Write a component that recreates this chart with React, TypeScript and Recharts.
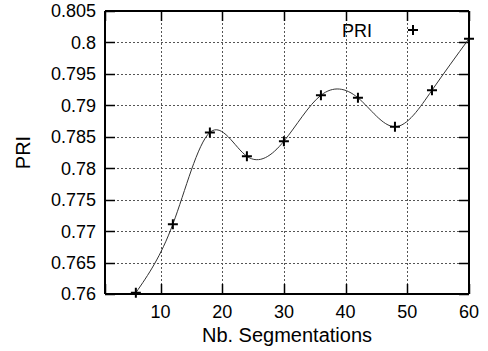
import React from "react";
import { LineChart, Line, XAxis, YAxis, CartesianGrid } from "recharts";

const segmentations = [6, 12, 18, 24, 30, 36, 42, 48, 54, 60];
const priValues = [
  0.7602, 0.7711, 0.7857, 0.7819, 0.7843, 0.7916, 0.7912, 0.7866, 0.7924,
  0.8006,
];
const xTicks = [10, 20, 30, 40, 50, 60];
const yTicks = [
  0.76, 0.765, 0.77, 0.775, 0.78, 0.785, 0.79, 0.795, 0.8, 0.805,
];
const xDomain = [1, 60];
const yDomain = [0.76, 0.805];
const xTitle = "Nb. Segmentations";
const yTitle = "PRI";
const seriesName = "PRI";

const FONT = "'Liberation Sans', Arial, Helvetica, sans-serif";

const data = segmentations.map((x, i) => ({ x, pri: priValues[i] }));

const TICK_TEXT = { fontSize: 18, fill: "#000", fontFamily: FONT };
const blank = () => "";

// dotted run built from short segments (dash 2, gap 2)
const dotted = (len: number, horiz: boolean) => {
  let d = "";
  for (let p = 0; p < len; p += 4) {
    const s = Math.min(2, len - p);
    d += horiz ? `h${s}m2,0` : `v${s}m0,2`;
  }
  return d;
};

// grid line plus the inward tick marks at both ends (gnuplot look)
const HGrid = (props: any) => {
  const { x1, x2, y1 } = props;
  if (x1 == null || y1 == null) return null;
  const y = Math.round(y1) + 0.5;
  return (
    <g key={props.key}>
      <path
        d={`M${x1},${y}${dotted(x2 - x1, true)}`}
        stroke="#555"
        strokeWidth={1}
        fill="none"
      />
      <path
        d={`M${x1},${y}h10M${x2},${y}h-10`}
        stroke="#000"
        strokeWidth={1.5}
        fill="none"
      />
    </g>
  );
};

const VGrid = (props: any) => {
  const { x1, y1, y2 } = props;
  if (x1 == null || y1 == null) return null;
  const x = Math.round(x1) + 0.5;
  return (
    <g key={props.key}>
      <path
        d={`M${x},${y1}${dotted(y2 - y1, false)}`}
        stroke="#555"
        strokeWidth={1}
        fill="none"
      />
      <path
        d={`M${x},${y1}v10M${x},${y2}v-10`}
        stroke="#000"
        strokeWidth={1.5}
        fill="none"
      />
    </g>
  );
};

// gnuplot style "+" point
const PlusDot = (props: any) => {
  const { cx, cy } = props;
  if (cx == null || cy == null) return null;
  return (
    <path
      d={`M${cx - 5},${cy}h10M${cx},${cy - 5}v10`}
      stroke="#000"
      strokeWidth={2}
      fill="none"
    />
  );
};

// axis titles and the key, drawn over the chart
const Overlay = () => (
  <svg
    width={488}
    height={351}
    style={{ position: "absolute", left: 0, top: 0, pointerEvents: "none" }}
  >
    <text
      x={287}
      y={342}
      textAnchor="middle"
      fontSize={20}
      fontFamily={FONT}
      fill="#000"
    >
      {xTitle}
    </text>
    <text
      transform="translate(30, 152.5) rotate(-90)"
      textAnchor="middle"
      fontSize={20}
      fontFamily={FONT}
      fill="#000"
    >
      {yTitle}
    </text>
    <text
      x={372}
      y={37}
      textAnchor="end"
      fontSize={18}
      fontFamily={FONT}
      fill="#000"
    >
      {seriesName}
    </text>
    <path d="M408,30h10M413,25v10" stroke="#000" strokeWidth={2} />
  </svg>
);

export default function App() {
  return (
    <div
      style={{
        position: "absolute",
        left: 0,
        top: 0,
        width: 488,
        height: 351,
      }}
    >
      <LineChart
        width={488}
        height={351}
        data={data}
        margin={{ top: 10, right: 18, bottom: 0, left: 0 }}
      >
        <CartesianGrid
          stroke="#555"
          horizontal={(p: any) => <HGrid {...p} />}
          vertical={(p: any) => <VGrid {...p} />}
        />
        <XAxis
          dataKey="x"
          type="number"
          domain={xDomain}
          ticks={xTicks}
          height={57}
          stroke="#000"
          strokeWidth={2}
          tickLine={false}
          tickSize={0}
          tickMargin={11}
          tick={TICK_TEXT}
        />
        <XAxis
          xAxisId="top"
          type="number"
          orientation="top"
          domain={xDomain}
          ticks={xTicks}
          height={1}
          stroke="#000"
          strokeWidth={2}
          tickLine={false}
          tickFormatter={blank}
        />
        <YAxis
          type="number"
          domain={yDomain}
          ticks={yTicks}
          width={105}
          stroke="#000"
          strokeWidth={2}
          tickLine={false}
          tickSize={0}
          tickMargin={9}
          tick={TICK_TEXT}
          tickFormatter={(v: number) => String(v)}
        />
        <YAxis
          yAxisId="right"
          type="number"
          orientation="right"
          domain={yDomain}
          ticks={yTicks}
          width={1}
          stroke="#000"
          strokeWidth={2}
          tickLine={false}
          tickFormatter={blank}
        />
        <Line
          dataKey="pri"
          name={seriesName}
          type="natural"
          stroke="#333"
          strokeWidth={1}
          dot={<PlusDot />}
          activeDot={false}
          isAnimationActive={false}
        />
      </LineChart>
      <Overlay />
    </div>
  );
}
